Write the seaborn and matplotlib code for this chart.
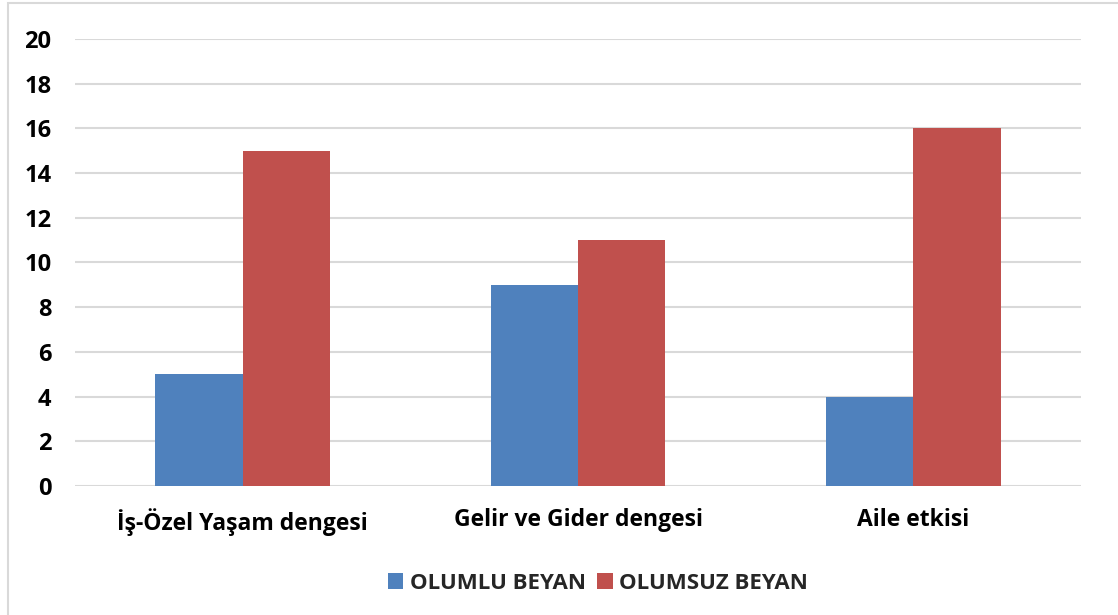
import seaborn as sns
import matplotlib.pyplot as plt
import pandas as pd
from matplotlib.patches import Rectangle

categories = ['İş-Özel Yaşam dengesi', 'Gelir ve Gider dengesi', 'Aile etkisi']
olumlu = [5, 9, 4]
olumsuz = [15, 11, 16]
series = ['OLUMLU BEYAN', 'OLUMSUZ BEYAN']
colors = ['#4F81BD', '#C0504D']

df = pd.DataFrame({
    'kategori': categories * 2,
    'seri': [series[0]] * 3 + [series[1]] * 3,
    'deger': olumlu + olumsuz,
})

sns.set_style('white')
plt.rcParams['font.family'] = ['Open Sans', 'DejaVu Sans']

fig = plt.figure(figsize=(11.18, 6.15), dpi=100)
ax = fig.add_axes([0.067, 0.2098, 0.9, 0.7268])

sns.barplot(data=df, x='kategori', y='deger', hue='seri', palette=colors,
            width=0.52, saturation=1, linewidth=0, ax=ax, legend=True)

ax.set_ylim(0, 20)
ax.set_xlim(-0.5, 2.5)
ax.set_yticks(range(0, 21, 2))
ax.yaxis.grid(True, color='#d9d9d9', lw=1.5)
ax.set_axisbelow(True)
for s in ax.spines.values():
    s.set_visible(False)
ax.tick_params(length=0)
ax.tick_params(axis='y', pad=17)
ax.tick_params(axis='x', pad=16)
ax.set_xlabel('')
ax.set_ylabel('')
for lab in ax.get_yticklabels():
    lab.set_fontweight('bold')
    lab.set_fontsize(17)
    lab.set_color('black')
for lab in ax.get_xticklabels():
    lab.set_fontweight('bold')
    lab.set_fontsize(16.5)
    lab.set_color('black')

handles, labels = ax.get_legend_handles_labels()
ax.legend_.remove()
fig.legend(handles, labels, loc='center', bbox_to_anchor=(0.535, 0.052), ncol=2,
           frameon=False, handlelength=0.7, handleheight=0.7, handletextpad=0.3,
           columnspacing=0.5, prop={'weight': 'bold', 'size': 16})

# outer chart frame
fig.patches.append(Rectangle((8 / 1118, -0.1), 1.2, 1.1 - 3 / 615, transform=fig.transFigure,
                             fill=False, edgecolor='#d9d9d9', lw=1.5))

fig.savefig('out.png', dpi=100)
